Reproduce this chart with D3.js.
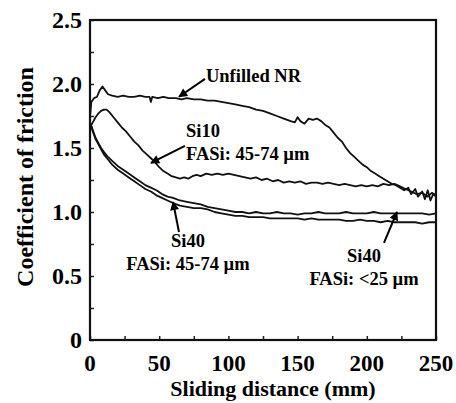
<!DOCTYPE html>
<html lang="en">
  <head>
    <meta charset="utf-8"/>
    <title>Coefficient of friction vs sliding distance</title>
    <script src="https://cdn.jsdelivr.net/npm/d3@7/dist/d3.min.js"></script>
    <style>
      body { margin: 0; background: #fff; }
    </style>
  </head>
  <body>
    <div id="chart"></div>
    <script type="text/javascript">

      // values: [sliding distance (mm), coefficient of friction]
      var unfilledNR = [[0,1.74],[1,1.86],[3,1.89],[5,1.90],[7,1.95],[9,1.98],[11,1.95],[13,1.92],[16,1.91],[20,1.90],[24,1.91],[28,1.90],[32,1.90],[36,1.91],[40,1.90],[43,1.90],[44,1.86],[45,1.90],[49,1.89],[53,1.90],[57,1.89],[62,1.89],[66,1.88],[70,1.89],[75,1.88],[80,1.88],[85,1.87],[90,1.87],[95,1.86],[100,1.85],[105,1.84],[110,1.83],[115,1.82],[120,1.80],[125,1.79],[130,1.77],[135,1.75],[140,1.73],[145,1.71],[148,1.70],[150,1.74],[152,1.71],[155,1.69],[158,1.73],[161,1.72],[164,1.73],[167,1.71],[170,1.68],[173,1.66],[176,1.62],[179,1.58],[182,1.55],[185,1.50],[188,1.46],[191,1.43],[194,1.40],[197,1.37],[200,1.35],[203,1.32],[206,1.30],[209,1.28],[212,1.26],[215,1.24],[218,1.22],[221,1.21],[224,1.19],[227,1.17],[230,1.19],[232,1.14],[235,1.18],[237,1.12],[240,1.16],[242,1.10],[244,1.17],[246,1.09],[248,1.14],[250,1.12]];

      var si10 = [[0,1.66],[2,1.70],[4,1.74],[6,1.77],[8,1.79],[10,1.80],[12,1.80],[14,1.78],[17,1.74],[20,1.70],[23,1.66],[26,1.63],[29,1.59],[32,1.55],[35,1.52],[38,1.48],[41,1.45],[44,1.42],[47,1.39],[50,1.35],[53,1.32],[56,1.30],[59,1.28],[62,1.27],[65,1.26],[68,1.27],[71,1.26],[74,1.28],[77,1.29],[80,1.28],[84,1.30],[88,1.29],[92,1.30],[96,1.29],[100,1.30],[104,1.29],[108,1.28],[112,1.27],[116,1.26],[120,1.27],[124,1.25],[128,1.26],[132,1.24],[136,1.25],[140,1.23],[144,1.24],[148,1.23],[152,1.24],[156,1.22],[160,1.23],[164,1.23],[168,1.22],[172,1.23],[176,1.22],[180,1.21],[184,1.22],[188,1.21],[192,1.20],[196,1.21],[200,1.20],[204,1.21],[208,1.20],[212,1.22],[216,1.21],[220,1.22],[224,1.20],[228,1.18],[232,1.16],[236,1.14],[240,1.15],[244,1.12],[247,1.15],[250,1.13]];

      var si40Fine = [[0,1.70],[2,1.64],[4,1.58],[6,1.54],[8,1.50],[10,1.47],[13,1.43],[16,1.40],[20,1.36],[24,1.33],[28,1.30],[32,1.27],[36,1.24],[40,1.21],[44,1.19],[48,1.17],[52,1.14],[56,1.12],[60,1.11],[65,1.09],[70,1.08],[75,1.07],[80,1.06],[85,1.04],[90,1.03],[95,1.02],[100,1.01],[105,1.00],[110,1.00],[115,0.99],[120,1.00],[125,0.99],[130,0.99],[135,1.00],[140,0.99],[145,0.99],[150,0.98],[155,0.99],[160,0.99],[165,1.00],[170,0.99],[175,0.99],[180,0.99],[185,1.00],[190,0.99],[195,0.99],[200,0.99],[205,1.00],[210,0.99],[215,0.99],[220,0.99],[225,0.99],[230,0.99],[235,0.99],[240,0.99],[245,0.98],[250,0.99]];

      var si40Coarse = [[0,1.70],[2,1.63],[4,1.57],[6,1.53],[8,1.49],[10,1.45],[13,1.41],[16,1.37],[20,1.33],[24,1.30],[28,1.27],[32,1.24],[36,1.21],[40,1.18],[44,1.16],[48,1.13],[52,1.11],[56,1.09],[60,1.07],[65,1.05],[70,1.04],[75,1.03],[80,1.03],[85,1.02],[90,1.00],[95,0.99],[100,0.98],[105,0.97],[110,0.97],[115,0.96],[120,0.96],[125,0.96],[130,0.95],[135,0.95],[140,0.95],[145,0.95],[150,0.95],[155,0.94],[160,0.95],[165,0.94],[170,0.94],[175,0.94],[180,0.94],[185,0.93],[190,0.93],[195,0.94],[200,0.93],[205,0.93],[210,0.92],[215,0.93],[220,0.92],[225,0.92],[230,0.92],[235,0.92],[240,0.91],[245,0.92],[250,0.92]];

      var xTickLabels = [0, 50, 100, 150, 200, 250];
      var yTickLabels = [0, 0.5, 1.0, 1.5, 2.0, 2.5];

      // annotation labels: text lines, anchor point (data units), arrow tail and tip (data units)
      var notes = [
        { lines: ["Unfilled NR"], at: [83.8, 2.016], anchor: "start", tail: [83.1, 2.04], tip: [64.3, 1.90] },
        { lines: ["Si10", "FASi: 45-74 \u00b5m"], at: [69.4, 1.586], anchor: "start", tail: [68.6, 1.516], tip: [44.1, 1.383] },
        { lines: ["Si40", "FASi: 45-74 \u00b5m"], at: [70.8, 0.727], anchor: "middle", tail: [64.3, 0.844], tip: [60.0, 1.078] },
        { lines: ["Si40", "FASi: <25 \u00b5m"], at: [198, 0.609], anchor: "middle", tail: [212.4, 0.758], tip: [221.8, 1.0] }
      ];

      var serif = "'Liberation Serif', 'Times New Roman', Times, 'DejaVu Serif', serif";

      var width = 456, height = 403;
      var margin = { left: 90, right: 20, top: 20, bottom: 63 };

      var x = d3.scaleLinear().domain([0, 250]).range([margin.left, width - margin.right]);
      var y = d3.scaleLinear().domain([0, 2.5]).range([height - margin.bottom, margin.top]);

      var svg = d3.select("#chart")
        .append("svg")
        .attr("width", width)
        .attr("height", height)
        .attr("font-family", serif)
        .attr("font-weight", "bold")
      ;

      svg.append("defs").append("marker")
        .attr("id", "head")
        .attr("viewBox", "0 0 10 10")
        .attr("refX", 9)
        .attr("refY", 5)
        .attr("markerUnits", "userSpaceOnUse")
        .attr("markerWidth", 11)
        .attr("markerHeight", 9)
        .attr("orient", "auto")
        .append("path")
        .attr("d", "M0,0 L10,5 L0,10 z")
        .attr("fill", "#000")
      ;

      // inner ticks (every 25 mm / every 0.25)
      var xAxis = d3.axisBottom(x).tickValues(d3.range(0, 251, 25)).tickSize(-4).tickFormat("");
      var yAxis = d3.axisLeft(y).tickValues(d3.range(0, 2.51, 0.25)).tickSize(-4).tickFormat("");

      svg.append("g")
        .attr("transform", "translate(0," + y(0) + ")")
        .call(xAxis)
        .call(function(g) { g.select(".domain").remove(); })
        .selectAll("line").attr("stroke", "#222").attr("stroke-width", 1.5)
      ;
      svg.append("g")
        .attr("transform", "translate(" + x(0) + ",0)")
        .call(yAxis)
        .call(function(g) { g.select(".domain").remove(); })
        .selectAll("line").attr("stroke", "#222").attr("stroke-width", 1.5)
      ;

      // tick labels
      svg.append("g")
        .selectAll("text")
        .data(xTickLabels)
        .enter()
        .append("text")
        .attr("x", function(d) { return x(d); })
        .attr("y", y(0) + 31)
        .attr("text-anchor", "middle")
        .style("font-family", serif)
        .style("font-weight", "bold")
        .style("font-size", "23px")
        .text(function(d) { return d; })
      ;
      svg.append("g")
        .selectAll("text")
        .data(yTickLabels)
        .enter()
        .append("text")
        .attr("x", x(0) - 8)
        .attr("y", function(d) { return y(d) + 8; })
        .attr("text-anchor", "end")
        .style("font-family", serif)
        .style("font-weight", "bold")
        .style("font-size", "24px")
        .text(function(d) { return d === 0 ? "0" : d.toFixed(1); })
      ;

      // axis titles
      svg.append("text")
        .attr("x", (x(0) + x(250)) / 2 + 10)
        .attr("y", 396)
        .attr("text-anchor", "middle")
        .style("font-family", serif)
        .style("font-weight", "bold")
        .style("font-size", "22px")
        .text("Sliding distance (mm)")
      ;
      svg.append("text")
        .attr("transform", "translate(33," + ((y(0) + y(2.5)) / 2 - 3) + ") rotate(-90)")
        .attr("text-anchor", "middle")
        .style("font-family", serif)
        .style("font-weight", "bold")
        .style("font-size", "24px")
        .text("Coefficient of friction")
      ;

      // curves
      var line = d3.line()
        .x(function(d) { return x(d[0]); })
        .y(function(d) { return y(d[1]); })
      ;
      svg.append("g")
        .selectAll("path")
        .data([unfilledNR, si10, si40Fine, si40Coarse])
        .enter()
        .append("path")
        .attr("d", line)
        .attr("fill", "none")
        .attr("stroke", "#111")
        .attr("stroke-width", 1.8)
        .attr("stroke-linejoin", "round")
      ;

      // frame
      svg.append("rect")
        .attr("x", x(0))
        .attr("y", y(2.5))
        .attr("width", x(250) - x(0))
        .attr("height", y(0) - y(2.5))
        .attr("fill", "none")
        .attr("stroke", "#111")
        .attr("stroke-width", 2.2)
      ;

      // annotations
      var ann = svg.append("g");
      notes.forEach(function(n) {
        ann.append("line")
          .attr("x1", x(n.tail[0]))
          .attr("y1", y(n.tail[1]))
          .attr("x2", x(n.tip[0]))
          .attr("y2", y(n.tip[1]))
          .attr("stroke", "#000")
          .attr("stroke-width", 2)
          .attr("marker-end", "url(#head)")
        ;
        n.lines.forEach(function(t, i) {
          ann.append("text")
            .attr("x", x(n.at[0]))
            .attr("y", y(n.at[1]) + i * 23)
            .attr("text-anchor", n.anchor)
            .style("font-family", serif)
            .style("font-weight", "bold")
            .style("font-size", "18.5px")
            .text(t)
          ;
        });
      });
    </script>
  </body>
</html>
